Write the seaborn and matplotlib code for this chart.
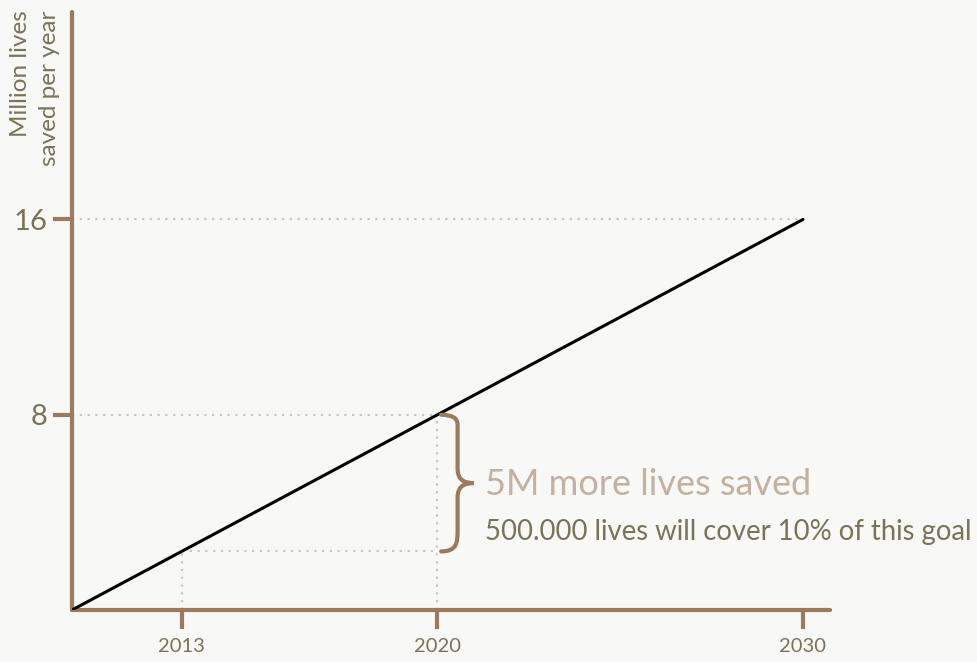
import numpy as np
import matplotlib
matplotlib.use("Agg")
import matplotlib.pyplot as plt
from matplotlib.path import Path
from matplotlib.patches import PathPatch
import seaborn as sns
import pandas as pd

# Datos del grafico
years = [2010, 2013, 2020, 2030]
lives = [0, 2.4, 8, 16]
x_ticks = [2013, 2020, 2030]
y_ticks = [8, 16]
y_label = "Million lives\nsaved per year"
big_note = "5M more lives saved"
small_note = "500.000 lives will cover 10% of this goal"

brown = "#9b7a5e"
olive = "#7a7358"
tan = "#c4b1a0"
dotgray = "#c8c8c8"
bg = "#f8f8f6"

sns.set_style("white")
plt.rcParams["font.family"] = ["Lato", "DejaVu Sans"]

fig = plt.figure(figsize=(9.78, 6.62), dpi=100, facecolor=bg)
ax = fig.add_axes([72 / 978, 52 / 662, 758 / 978, 598 / 662], facecolor=bg)

df = pd.DataFrame({"year": years, "lives": lives})
sns.lineplot(data=df, x="year", y="lives", color="black", lw=2.2, ax=ax, zorder=3)

# Lineas punteadas de referencia
dot = dict(color=dotgray, ls=(0, (1, 2.5)), lw=1.6, zorder=1)
ax.plot([years[0], years[3]], [lives[3], lives[3]], **dot)
ax.plot([years[0], years[2]], [lives[2], lives[2]], **dot)
ax.plot([years[1], years[2]], [lives[1], lives[1]], **dot)
ax.plot([years[1], years[1]], [0, lives[1]], **dot)
ax.plot([years[2], years[2]], [0, lives[2]], **dot)

ax.set_xlim(2010, 2030.74)
ax.set_ylim(0, 24.5)
ax.set_xticks(x_ticks)
ax.set_yticks(y_ticks)
ax.tick_params(axis="both", direction="out", length=14, width=3, color=brown,
               labelcolor=olive, bottom=True, left=True)
ax.tick_params(axis="y", labelsize=21, pad=4)
ax.tick_params(axis="x", labelsize=14.5, pad=6)
for t in ax.xaxis.get_ticklines() + ax.yaxis.get_ticklines():
    t.set_solid_capstyle("round")

for s in ["top", "right"]:
    ax.spines[s].set_visible(False)
for s in ["left", "bottom"]:
    ax.spines[s].set_color(brown)
    ax.spines[s].set_linewidth(3)
    ax.spines[s].set_capstyle("round")

ax.set_xlabel("")
ax.set_ylabel("")
fig.text(35 / 978, 1 - 88 / 662, y_label, fontsize=17.5, color=olive, rotation=90,
         ha="center", va="center", linespacing=1.45, multialignment="right")

# Llave
x0 = years[2] + 0.1
ytop, ybot = lives[2], lives[1]
ymid = (ytop + ybot) / 2
w = 0.45
verts = [
    (x0, ytop), (x0 + w, ytop), (x0 + w, ytop - 0.4), (x0 + w, ytop - 0.9),
    (x0 + w, ymid + 0.6),
    (x0 + w, ymid + 0.1), (x0 + w + 0.2, ymid), (x0 + w + 0.45, ymid),
    (x0 + w + 0.2, ymid), (x0 + w, ymid - 0.1), (x0 + w, ymid - 0.6),
    (x0 + w, ybot + 0.9),
    (x0 + w, ybot + 0.4), (x0 + w, ybot), (x0, ybot),
]
codes = [Path.MOVETO, Path.CURVE3, Path.CURVE3, Path.LINETO, Path.LINETO,
         Path.CURVE4, Path.CURVE4, Path.CURVE4,
         Path.CURVE4, Path.CURVE4, Path.CURVE4,
         Path.LINETO, Path.CURVE4, Path.CURVE4, Path.CURVE4]
ax.add_patch(PathPatch(Path(verts, codes), fill=False, edgecolor=brown, lw=3,
                       capstyle="round", zorder=4, clip_on=False))

ax.text(2021.3, ymid - 0.5, big_note, fontsize=26, color=tan, ha="left", va="baseline")
ax.text(2021.3, ybot + 0.45, small_note, fontsize=19.8, color=olive, ha="left",
        va="baseline", clip_on=False)

fig.savefig("out.png", dpi=100, facecolor=bg)
